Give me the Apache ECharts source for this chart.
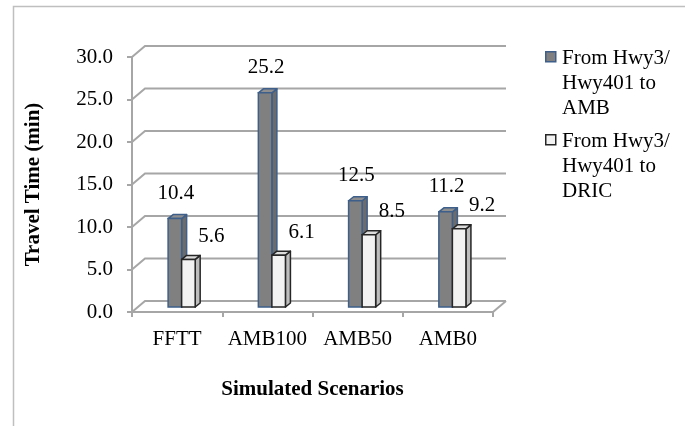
<!DOCTYPE html>
<html>
<head>
<meta charset="utf-8">
<script src="https://cdn.jsdelivr.net/npm/echarts@6/dist/echarts.min.js"></script>
<style>
  html, body { margin: 0; padding: 0; background: #fff; }
  #chart { width: 685px; height: 426px; }
</style>
</head>
<body>
<div id="chart"></div>
<script>
// Travel time per simulated scenario, two routes
const categories = ['FFTT', 'AMB100', 'AMB50', 'AMB0'];
const toAMB = [10.4, 25.2, 12.5, 11.2];
const toDRIC = [5.6, 6.1, 8.5, 9.2];
const seriesNames = ['From Hwy3/\nHwy401 to\nAMB', 'From Hwy3/\nHwy401 to\nDRIC'];
const yTicks = [0, 5, 10, 15, 20, 25, 30];

const FONT = '"Liberation Serif", "Times New Roman", serif';
const GRID_COLOR = '#a6a6a6';
// perspective offsets (px) for the back wall and for bar depth
const WALL_DX = 13, WALL_DY = -11;
const BAR_DX = 5, BAR_DY = -4;
const BAR_SHIFT_Y = -5;

const styles = [
  { front: '#808080', side: '#6c6c6c', top: '#8f8f8f', stroke: '#3d5f8a' },
  { front: '#f2f2f2', side: '#bdbdbd', top: '#dcdcdc', stroke: '#262626' }
];

function wallRenderer(params, api) {
  const cs = params.coordSys;
  const v = api.value(0);
  const y = api.coord([0, v])[1];
  const x0 = cs.x, x1 = cs.x + cs.width;
  const children = [{
    type: 'polyline',
    shape: { points: [[x0, y], [x0 + WALL_DX, y + WALL_DY], [x1 + WALL_DX, y + WALL_DY]] },
    style: { stroke: GRID_COLOR, lineWidth: 2, fill: null }
  }];
  if (v === 0) {
    children.push({
      type: 'line',
      shape: { x1: x1, y1: y, x2: x1 + WALL_DX, y2: y + WALL_DY },
      style: { stroke: GRID_COLOR, lineWidth: 2 }
    });
  }
  return { type: 'group', children: children };
}

function barRenderer(slot) {
  const st = styles[slot];
  return function (params, api) {
    const cat = api.value(0), v = api.value(1);
    const base = api.coord([cat, 0]);
    const top = api.coord([cat, v]);
    const band = api.size([1, 0])[0];
    const w = band * 0.15;
    const shift = band * 0.05;
    const x = base[0] + shift + (slot === 0 ? -w : 0);
    const by = base[1] + BAR_SHIFT_Y, ty = top[1] + BAR_SHIFT_Y;
    const lw = 1.5;
    const label = slot === 0
      ? { x: x + w / 2 + 1, y: ty - 25 }
      : { x: x + w / 2 + 23, y: ty - 23 };
    return {
      type: 'group',
      children: [
        {
          type: 'polygon',
          shape: { points: [[x + w, ty], [x + w + BAR_DX, ty + BAR_DY], [x + w + BAR_DX, by + BAR_DY], [x + w, by]] },
          style: { fill: st.side, stroke: st.stroke, lineWidth: lw, lineJoin: 'round' }
        },
        {
          type: 'polygon',
          shape: { points: [[x, ty], [x + w, ty], [x + w + BAR_DX, ty + BAR_DY], [x + BAR_DX, ty + BAR_DY]] },
          style: { fill: st.top, stroke: st.stroke, lineWidth: lw, lineJoin: 'round' }
        },
        {
          type: 'rect',
          shape: { x: x, y: ty, width: w, height: by - ty },
          style: { fill: st.front, stroke: st.stroke, lineWidth: lw }
        },
        {
          type: 'text',
          x: label.x, y: label.y,
          style: {
            text: v.toFixed(1), fill: '#000',
            font: '21px ' + FONT, align: 'center', verticalAlign: 'middle'
          }
        }
      ]
    };
  };
}

const chart = echarts.init(document.getElementById('chart'), null, { renderer: 'canvas' });

const legendGraphics = [];
const legendTops = [46, 129];
seriesNames.forEach(function (name, i) {
  legendGraphics.push({
    type: 'rect', left: 545, top: legendTops[i] + 5,
    shape: { width: 10, height: 10 },
    style: { fill: styles[i].front, stroke: styles[i].stroke, lineWidth: 1.5 }
  });
  legendGraphics.push({
    type: 'text', left: 562, top: legendTops[i],
    style: { text: name, font: '21px ' + FONT, fill: '#000', lineHeight: 25 }
  });
});

chart.setOption({
  animation: false,
  backgroundColor: '#fff',
  textStyle: { fontFamily: FONT },
  grid: { left: 132, right: 192, top: 57, bottom: 114 },
  xAxis: {
    type: 'category',
    data: categories,
    name: 'Simulated Scenarios',
    nameLocation: 'middle',
    nameGap: 67,
    nameTextStyle: { fontFamily: FONT, fontSize: 21, fontWeight: 'bold', color: '#000' },
    axisLine: { lineStyle: { color: GRID_COLOR, width: 2 } },
    axisTick: { show: true, length: 5, lineStyle: { color: GRID_COLOR, width: 2 } },
    axisLabel: { fontFamily: FONT, fontSize: 21, color: '#000', margin: 17, interval: 0 },
    splitLine: { show: false }
  },
  yAxis: {
    type: 'value',
    min: 0, max: 30, interval: 5,
    name: 'Travel Time (min)',
    nameLocation: 'middle',
    nameGap: 88,
    nameRotate: 90,
    nameTextStyle: { fontFamily: FONT, fontSize: 21, fontWeight: 'bold', color: '#000' },
    axisLine: { show: true, lineStyle: { color: GRID_COLOR, width: 2 } },
    axisTick: { show: true, length: 5, lineStyle: { color: GRID_COLOR, width: 2 } },
    axisLabel: {
      fontFamily: FONT, fontSize: 21, color: '#000', margin: 19,
      formatter: function (v) { return v.toFixed(1); }
    },
    splitLine: { show: false }
  },
  graphic: [
    {
      type: 'rect', left: 11, top: 4, silent: true,
      shape: { x: 0, y: 0, width: 700, height: 440 },
      style: { fill: null, stroke: '#bfbfbf', lineWidth: 1.5 }
    }
  ].concat(legendGraphics),
  series: [
    {
      type: 'custom', name: 'wall', z: 1,
      renderItem: wallRenderer,
      data: yTicks.map(function (t) { return [t]; }),
      encode: { y: 0 },
      silent: true
    },
    {
      type: 'custom', name: seriesNames[0], z: 3,
      renderItem: barRenderer(0),
      data: toAMB.map(function (v, i) { return [i, v]; }),
      encode: { x: 0, y: 1 }
    },
    {
      type: 'custom', name: seriesNames[1], z: 4,
      renderItem: barRenderer(1),
      data: toDRIC.map(function (v, i) { return [i, v]; }),
      encode: { x: 0, y: 1 }
    }
  ]
});
</script>
</body>
</html>
